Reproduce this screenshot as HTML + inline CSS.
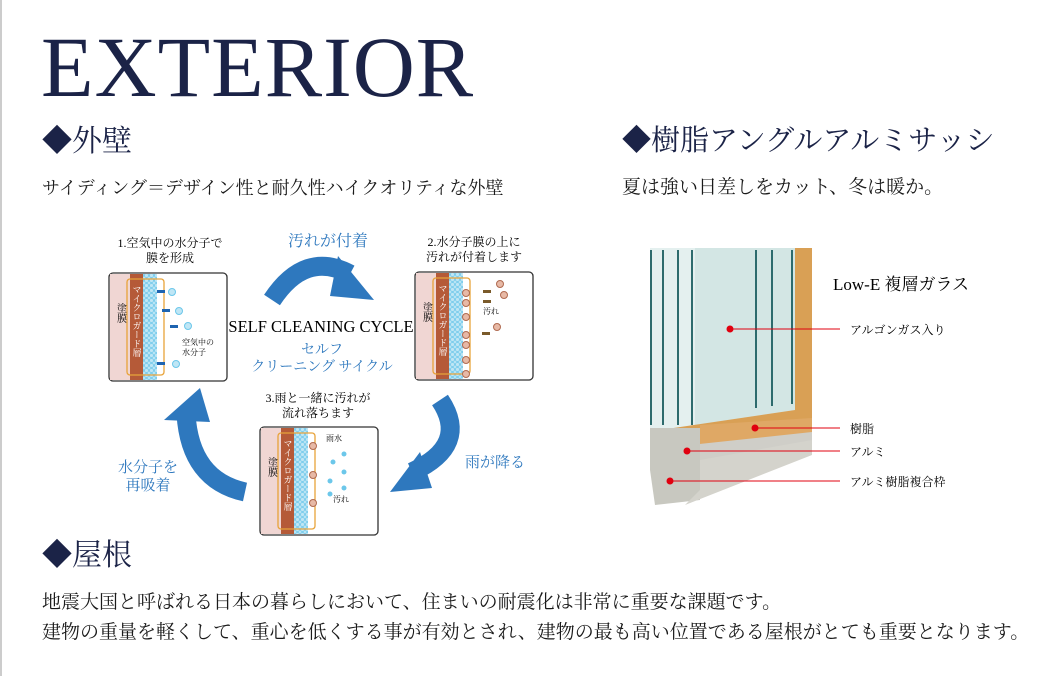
<!DOCTYPE html>
<html><head><meta charset="utf-8"><style>
body{margin:0;width:1060px;height:676px;background:#fff;position:relative;overflow:hidden;font-family:"Liberation Serif","Noto Serif CJK SC",serif;color:#1a1a1a}
.a{position:absolute;white-space:nowrap}
</style></head><body>
<div class="a" style="left:0;top:0;width:2px;height:676px;background:#ccc"></div>
<div class="a" style="left:41px;top:24px;font-size:86px;color:#1b2347;line-height:1;letter-spacing:1px">EXTERIOR</div>
<div class="a" style="left:42px;top:124px;font-size:30px;color:#1b2347;line-height:1.2">◆外壁</div>
<div class="a" style="left:42px;top:178px;font-size:18px;line-height:1.2">サイディング＝デザイン性と耐久性ハイクオリティな外壁</div>
<div class="a" style="left:622px;top:124px;font-size:29px;color:#1b2347;line-height:1.2">◆樹脂アングルアルミサッシ</div>
<div class="a" style="left:622px;top:177px;font-size:19px;line-height:1.2">夏は強い日差しをカット、冬は暖か。</div>
<div class="a" style="left:42px;top:538px;font-size:30px;color:#1b2347;line-height:1.2">◆屋根</div>
<div class="a" style="left:42px;top:592px;font-size:19px;line-height:1.2">地震大国と呼ばれる日本の暮らしにおいて、住まいの耐震化は非常に重要な課題です。</div>
<div class="a" style="left:42px;top:622px;font-size:19px;line-height:1.2">建物の重量を軽くして、重心を低くする事が有効とされ、建物の最も高い位置である屋根がとても重要となります。</div>

<svg class="a" style="left:0;top:0" width="1060" height="676" font-family="Liberation Serif,Noto Serif CJK SC,serif">
<defs>
<pattern id="dots" width="5" height="5" patternUnits="userSpaceOnUse"><rect width="5" height="5" fill="#bfe6f5"/><circle cx="2.5" cy="2.5" r="2" fill="none" stroke="#6cc7ea" stroke-width="0.8"/></pattern>
<g id="box">
<rect x="0" y="0" width="118" height="108" rx="4" fill="#fff" stroke="#333" stroke-width="1.3"/>
<rect x="1" y="1" width="20" height="106" fill="#f0d6d3"/>
<rect x="21" y="1" width="13" height="106" fill="#b55a38"/>
<rect x="34" y="1" width="14" height="106" fill="url(#dots)"/>
<rect x="18" y="6" width="37" height="96" rx="3" fill="none" stroke="#e8a33a" stroke-width="1.3"/>
<text x="11" y="40" font-size="10" text-anchor="middle" writing-mode="tb">塗膜</text>
<text x="27.5" y="12" font-size="9" fill="#fff" writing-mode="tb">マイクロガード層</text>
</g>
</defs>
<g fill="none" stroke="#2e78be" stroke-width="19">
<path d="M272 300 Q305 250 350 274"/>
<path d="M440 400 Q470 445 412 472"/>
<path d="M245 492 Q190 480 186 414"/>
</g>
<g fill="#2e78be">
<polygon points="338,256 374,300 330,296"/>
<polygon points="420,452 390,492 432,488"/>
<polygon points="164,420 200,388 210,422"/>
</g>
<text x="328" y="246" font-size="16" fill="#2e78be" text-anchor="middle">汚れが付着</text>
<text x="321" y="332" font-size="16.5" text-anchor="middle">SELF CLEANING CYCLE</text>
<text x="322" y="354" font-size="14" fill="#2e78be" text-anchor="middle">セルフ</text>
<text x="322" y="371" font-size="14" fill="#2e78be" text-anchor="middle">クリーニング サイクル</text>
<text x="495" y="467" font-size="15" fill="#2e78be" text-anchor="middle">雨が降る</text>
<text x="148" y="472" font-size="15" fill="#2e78be" text-anchor="middle">水分子を</text>
<text x="148" y="490" font-size="15" fill="#2e78be" text-anchor="middle">再吸着</text>
<text x="170" y="247" font-size="12" text-anchor="middle">1.空気中の水分子で</text>
<text x="170" y="262" font-size="12" text-anchor="middle">膜を形成</text>
<text x="474" y="246" font-size="12" text-anchor="middle">2.水分子膜の上に</text>
<text x="474" y="261" font-size="12" text-anchor="middle">汚れが付着します</text>
<text x="318" y="402" font-size="12" text-anchor="middle">3.雨と一緒に汚れが</text>
<text x="318" y="417" font-size="12" text-anchor="middle">流れ落ちます</text>
<use href="#box" x="109" y="273"/>
<use href="#box" x="415" y="272"/>
<use href="#box" x="260" y="427"/>
<g fill="#bfe6f5" stroke="#6cc7ea"><circle cx="172" cy="292" r="3.5"/><circle cx="179" cy="311" r="3.5"/><circle cx="188" cy="326" r="3.5"/><circle cx="176" cy="364" r="3.5"/></g>
<g fill="#1e64b0"><rect x="157" y="290" width="8" height="3"/><rect x="162" y="309" width="8" height="3"/><rect x="170" y="325" width="8" height="3"/><rect x="157" y="362" width="8" height="3"/></g>
<text x="182" y="345" font-size="8">空気中の</text><text x="182" y="355" font-size="8">水分子</text>
<g fill="#e7b9a6" stroke="#b06a50"><circle cx="500" cy="284" r="3.5"/><circle cx="504" cy="295" r="3.5"/><circle cx="497" cy="327" r="3.5"/><circle cx="466" cy="293" r="3.5"/><circle cx="466" cy="303" r="3.5"/><circle cx="466" cy="317" r="3.5"/><circle cx="466" cy="335" r="3.5"/><circle cx="466" cy="345" r="3.5"/><circle cx="466" cy="360" r="3.5"/><circle cx="466" cy="374" r="3.5"/>
<circle cx="313" cy="446" r="3.5"/><circle cx="313" cy="475" r="3.5"/><circle cx="313" cy="503" r="3.5"/></g>
<g fill="#7a5a2a"><rect x="483" y="290" width="8" height="3"/><rect x="483" y="300" width="8" height="3"/><rect x="482" y="332" width="8" height="3"/></g>
<text x="483" y="314" font-size="8">汚れ</text>
<text x="326" y="441" font-size="8">雨水</text><text x="333" y="502" font-size="8">汚れ</text>
<g fill="#6cc7ea"><circle cx="344" cy="454" r="2.5"/><circle cx="333" cy="462" r="2.5"/><circle cx="344" cy="472" r="2.5"/><circle cx="330" cy="481" r="2.5"/><circle cx="344" cy="488" r="2.5"/><circle cx="330" cy="494" r="2.5"/></g>
<polygon points="650,248 810,248 810,428 650,448" fill="#e4f0ef"/>
<polygon points="695,248 795,248 795,410 695,425" fill="#d3e6e4"/>
<g stroke="#2d6b6d" stroke-width="2"><line x1="651" y1="250" x2="651" y2="425"/><line x1="663" y1="250" x2="663" y2="425"/><line x1="678" y1="250" x2="678" y2="425"/><line x1="692" y1="250" x2="692" y2="425"/><line x1="756" y1="250" x2="756" y2="408"/><line x1="772" y1="250" x2="772" y2="406"/><line x1="792" y1="250" x2="792" y2="404"/></g>
<polygon points="795,248 812,248 812,425 660,445 660,430 795,410" fill="#d9a055"/>
<polygon points="700,425 812,418 812,448 700,460" fill="#dfa865"/>
<polygon points="690,445 812,432 812,448 690,490 690,470" fill="#cfcec8"/>
<polygon points="650,428 700,428 700,500 655,505 650,470" fill="#c8c8c0"/>
<polygon points="700,460 812,440 812,455 685,505 700,490" fill="#d4d3cc"/>
<g stroke="#e0000f" stroke-width="1"><line x1="730" y1="329" x2="840" y2="329"/><line x1="755" y1="428" x2="840" y2="428"/><line x1="687" y1="451" x2="840" y2="451"/><line x1="670" y1="481" x2="840" y2="481"/></g>
<g fill="#e0000f"><circle cx="730" cy="329" r="3.5"/><circle cx="755" cy="428" r="3.5"/><circle cx="687" cy="451" r="3.5"/><circle cx="670" cy="481" r="3.5"/></g>
<text x="833" y="290" font-size="17">Low-E 複層ガラス</text>
<text x="850" y="334" font-size="12">アルゴンガス入り</text>
<text x="850" y="433" font-size="12">樹脂</text>
<text x="850" y="456" font-size="12">アルミ</text>
<text x="850" y="486" font-size="12">アルミ樹脂複合枠</text>
</svg>
</body></html>
